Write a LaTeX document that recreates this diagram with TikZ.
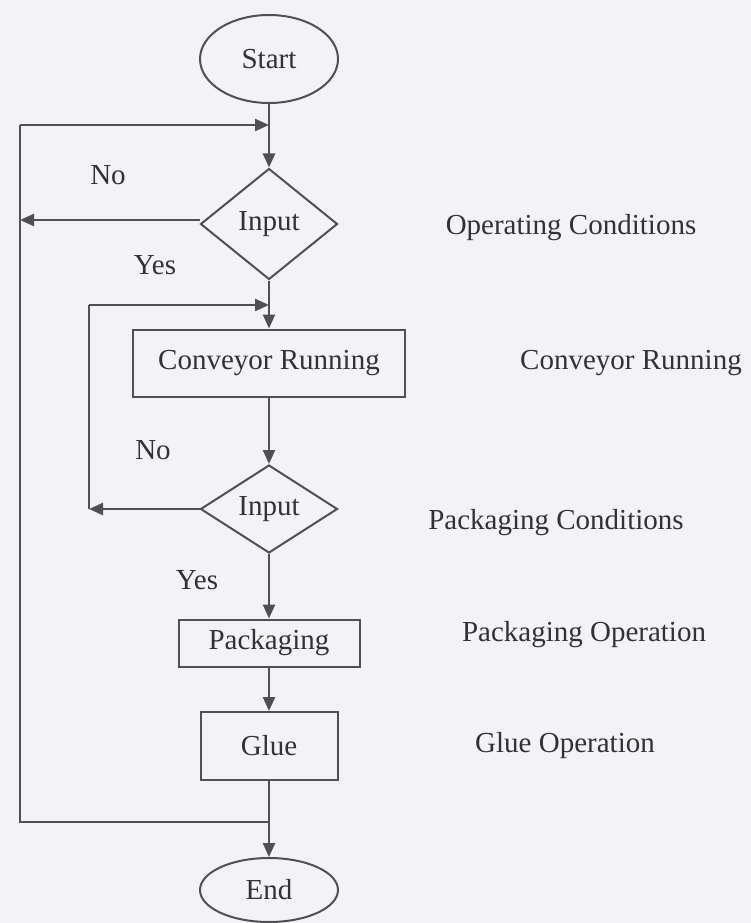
\documentclass[tikz,border=0pt]{standalone}
\usepackage{fontspec}
\setmainfont{Liberation Serif}
\usetikzlibrary{shapes.geometric,arrows.meta}
\definecolor{bg}{RGB}{243,243,245}
\definecolor{ln}{RGB}{80,80,84}
\definecolor{tx}{RGB}{50,50,54}
\begin{document}
\begin{tikzpicture}[x=1pt,y=-1pt,
  every node/.style={font=\rmfamily\fontsize{29}{34}\selectfont, text=tx},
  line/.style={draw=ln, line width=2.4pt},
  arr/.style={line, -{Triangle[length=14pt,width=12pt]}},
  term/.style={ellipse, draw=ln, line width=2pt, inner sep=0pt},
  decide/.style={diamond, draw=ln, line width=2pt, inner sep=0pt, minimum width=137pt},
  proc/.style={rectangle, draw=ln, line width=2pt, inner sep=0pt}]
\fill[bg] (0,0) rectangle (751,923);
\useasboundingbox (0,0) rectangle (751,923);

\node[term, minimum width=138pt, minimum height=88pt] (start) at (269,59) {Start};
\node[decide, minimum height=111pt] (in1) at (269,224) {Input};
\node[proc, minimum width=272pt, minimum height=67pt] (conv) at (269,363) {Conveyor Running};
\node[decide, minimum height=88pt] (in2) at (269,509) {Input};
\node[proc, minimum width=181pt, minimum height=47pt] (pack) at (269,643) {Packaging};
\node[proc, minimum width=137pt, minimum height=68pt] (glue) at (269,746) {Glue};
\node[term, minimum width=138pt, minimum height=64pt] (end) at (269,890) {End};

\node (no1) at (108,175) {No};
\node (yes1) at (155,265) {Yes};
\node (no2) at (153,450) {No};
\node (yes2) at (197,580) {Yes};

\node (lab1) at (571,228) {Operating Conditions};
\node (lab2) at (631,363) {Conveyor Running};
\node (lab3) at (556,523) {Packaging Conditions};
\node (lab4) at (584,635) {Packaging Operation};
\node (lab5) at (565,746) {Glue Operation};

\coordinate (jt) at (269,125);
\coordinate (lt) at (20,125);
\coordinate (lm) at (20,220);
\coordinate (lb) at (20,822);
\coordinate (jb) at (269,822);
\coordinate (jm) at (269,305);
\coordinate (mt) at (89,305);
\coordinate (mb) at (89,509);

\draw[arr] (start) -- (in1);
\draw[arr] (in1) -- (conv);
\draw[arr] (conv) -- (in2);
\draw[arr] (in2) -- (pack);
\draw[arr] (pack) -- (glue);
\draw[arr] (glue) -- (end);

\draw[arr] (in1.west |- lm) -- (lm);
\draw[line] (jb) -- (lb) -- (lt);
\draw[arr] (lt) -- (jt);

\draw[arr] (in2.west) -- (mb);
\draw[line] (mb) -- (mt);
\draw[arr] (mt) -- (jm);
\end{tikzpicture}
\end{document}
